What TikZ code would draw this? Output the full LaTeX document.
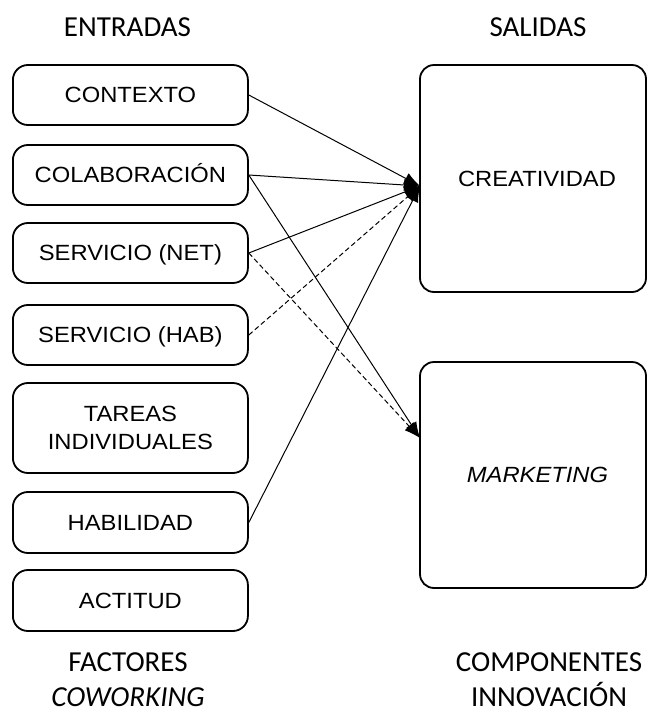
\documentclass[tikz,border=0pt]{standalone}
\usepackage{fontspec}
\setmainfont{Liberation Sans}
\newfontfamily\boxfont[FakeStretch=1.08]{Liberation Sans}
\newfontfamily\headfont{Carlito}
\usetikzlibrary{arrows.meta}

\begin{document}
\begin{tikzpicture}[x=1pt,y=-1pt,
  inbox/.style={draw, line width=1.8pt, rounded corners=15pt,
    minimum width=235pt, minimum height=60pt, inner sep=0pt,
    align=center, font=\boxfont\fontsize{22}{28}\selectfont},
  oneline/.style={text height=15.8pt, text depth=0pt},
  outbox/.style={draw, line width=1.8pt, rounded corners=14pt,
    minimum width=226pt, minimum height=226pt, inner sep=0pt,
    font=\boxfont\fontsize{22}{28}\selectfont},
  head/.style={font=\headfont\fontsize{29}{35}\selectfont, align=center},
  link/.style={line width=1pt, -{Latex[length=16pt,width=12pt]}},
  dlink/.style={link, dash pattern=on 5pt off 3pt}]

\useasboundingbox (0,0) rectangle (647,713);

% column headers
\node[head] (hin)  at (127.5,27) {ENTRADAS};
\node[head] (hout) at (538,27)   {SALIDAS};

% coworking factors
\node[inbox,oneline] (ctx) at (130.4,95)  {CONTEXTO};
\node[inbox,oneline] (col) at (130.4,175) {COLABORACIÓN};
\node[inbox,oneline] (net) at (130.4,253) {SERVICIO (NET)};
\node[inbox,oneline] (hab) at (130.4,335) {SERVICIO (HAB)};
\node[inbox, minimum height=90pt] (tar) at (130.4,428) {TAREAS\\INDIVIDUALES};
\node[inbox,oneline, minimum height=61pt] (hbl) at (130.4,522.5) {HABILIDAD};
\node[inbox,oneline, minimum height=61pt] (act) at (130.4,600.5) {ACTITUD};

% innovation components
\node[outbox, minimum height=227pt] (crea) at (533,178.5) {\hspace*{8pt}CREATIVIDAD};
\node[outbox] (mkt) at (533,475) {\hspace*{9pt}\itshape MARKETING};

% arrow targets on the left side of the output boxes
\coordinate (cin) at (420,186);
\coordinate (min) at (420,438);

% links
\draw[link]  (ctx.east) -- (cin);
\draw[link]  (col.east) -- (cin);
\draw[link]  (col.east) -- (min);
\draw[link]  (net.east) -- (cin);
\draw[dlink] (net.east) -- (min);
\draw[dlink] (hab.east) -- (cin);
\draw[link]  (hbl.east) -- (cin);

% footers
\node[head] (fin)  at (128,680) {FACTORES\\\textit{COWORKING}};
\node[head] (fout) at (549,680) {COMPONENTES\\INNOVACIÓN};
\end{tikzpicture}
\end{document}
